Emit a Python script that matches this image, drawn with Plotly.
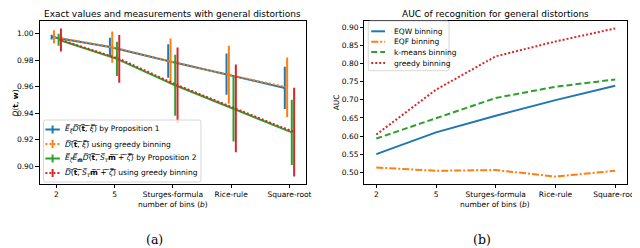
import plotly.graph_objects as go

# ---------------- data ----------------
categories = ["2", "5", "Sturges-formula", "Rice-rule", "Square-root"]

# left panel: exact values / measurements (mean and error half-width)
prop1_mean = [0.9975, 0.9900, 0.9794, 0.9694, 0.9590]
prop1_err = [0.0018, 0.0070, 0.0126, 0.0156, 0.0160]
greedy1_mean = [0.9976, 0.9898, 0.9790, 0.9689, 0.9595]
greedy1_err = [0.0051, 0.0118, 0.0173, 0.0219, 0.0225]
prop2_mean = [0.9954, 0.9810, 0.9610, 0.9430, 0.9254]
prop2_err = [0.0046, 0.0130, 0.0230, 0.0245, 0.0246]
greedy2_mean = [0.9953, 0.9810, 0.9610, 0.9436, 0.9256]
greedy2_err = [0.0087, 0.0180, 0.0285, 0.0332, 0.0336]
series_offsets = [-0.08, -0.04, 0.04, 0.08]

# right panel: AUC
auc_eqw = [0.550, 0.610, 0.656, 0.699, 0.739]
auc_eqf = [0.513, 0.504, 0.506, 0.488, 0.504]
auc_kmeans = [0.593, 0.648, 0.705, 0.736, 0.756]
auc_greedy = [0.604, 0.728, 0.820, 0.861, 0.897]

left_yticks = [0.90, 0.92, 0.94, 0.96, 0.98, 1.00]
right_yticks = [0.50, 0.55, 0.60, 0.65, 0.70, 0.75, 0.80, 0.85, 0.90]

# ---------------- style ----------------
W, H = 640, 248
FONT = "DejaVu Sans"
BLUE, ORANGE, GREEN, RED = "#1f77b4", "#ff7f0e", "#2ca02c", "#d62728"
TICK_FS = 7.5
DOT = "2px,2px"
DASH = "6px,3px"
DASHDOT = "7px,2px,2px,2px"


def X(px):
    return px / W


def Y(py):
    return 1 - py / H


OL = "\u0305"


def over(s):
    out = []
    intag = False
    for ch in s:
        if ch == "<":
            intag = True
        if intag:
            out.append(ch)
        else:
            out.append(ch + OL)
        if ch == ">":
            intag = False
    return "".join(out)


xs = list(range(len(categories)))
fig = go.Figure()

left_series = [
    (prop1_mean, prop1_err, BLUE, None),
    (greedy1_mean, greedy1_err, ORANGE, DOT),
    (prop2_mean, prop2_err, GREEN, None),
    (greedy2_mean, greedy2_err, RED, DOT),
]
for (m, e, c, d), off in zip(left_series, series_offsets):
    fig.add_trace(go.Scatter(
        x=[x + off for x in xs], y=m, mode="lines",
        line=dict(color=c, width=2, dash=d) if d else dict(color=c, width=2),
        error_y=dict(type="data", array=e, visible=True, thickness=2, width=0, color=c),
        xaxis="x", yaxis="y", showlegend=False, hoverinfo="skip"))

right_series = [
    (auc_eqw, BLUE, None),
    (auc_eqf, ORANGE, DASHDOT),
    (auc_kmeans, GREEN, DASH),
    (auc_greedy, RED, DOT),
]
for v, c, d in right_series:
    fig.add_trace(go.Scatter(
        x=xs, y=v, mode="lines",
        line=dict(color=c, width=2, dash=d) if d else dict(color=c, width=2),
        xaxis="x2", yaxis="y2", showlegend=False, hoverinfo="skip"))

axis_common = dict(showline=True, mirror=True, linecolor="black", linewidth=0.8,
                   ticks="outside", ticklen=3.5, tickwidth=0.8, tickcolor="black",
                   showgrid=False, zeroline=False,
                   tickfont=dict(family=FONT, size=TICK_FS, color="black"))

fig.update_layout(
    width=W, height=H, margin=dict(l=0, r=0, t=0, b=0),
    paper_bgcolor="white", plot_bgcolor="white",
    font=dict(family=FONT, size=TICK_FS, color="black"),
    xaxis=dict(domain=[X(32), X(303)], range=[-0.288, 4.288],
               tickvals=xs, ticktext=categories, anchor="y", **axis_common),
    yaxis=dict(domain=[Y(176), Y(13)], range=[0.8864, 1.0096],
               tickvals=left_yticks, tickformat=".2f", anchor="x", **axis_common),
    xaxis2=dict(domain=[X(362), X(629)], range=[-0.2, 4.2],
                tickvals=xs, ticktext=categories, anchor="y2", **axis_common),
    yaxis2=dict(domain=[Y(176), Y(13)], range=[0.4675, 0.9175],
                tickvals=right_yticks, tickformat=".2f", anchor="x2", **axis_common),
)


def rounded_box(x0, y0, x1, y1, r=2):
    # pixel coords -> paper path
    pts = (f"M {X(x0 + r)},{Y(y0)} L {X(x1 - r)},{Y(y0)} Q {X(x1)},{Y(y0)} {X(x1)},{Y(y0 + r)} "
           f"L {X(x1)},{Y(y1 - r)} Q {X(x1)},{Y(y1)} {X(x1 - r)},{Y(y1)} "
           f"L {X(x0 + r)},{Y(y1)} Q {X(x0)},{Y(y1)} {X(x0)},{Y(y1 - r)} "
           f"L {X(x0)},{Y(y0 + r)} Q {X(x0)},{Y(y0)} {X(x0 + r)},{Y(y0)} Z")
    return dict(type="path", xref="paper", yref="paper", path=pts,
                fillcolor="rgba(255,255,255,0.8)", line=dict(color="#cccccc", width=0.8))


shapes = []
annotations = []


def text(px, py, s, size=TICK_FS, xanchor="center", angle=0, family=FONT):
    annotations.append(dict(x=X(px), y=Y(py), xref="paper", yref="paper", text=s,
                            showarrow=False, xanchor=xanchor, yanchor="middle",
                            textangle=angle, font=dict(family=family, size=size, color="black")))


def seg(x0, y0, x1, y1, c, d=None, w=2):
    ln = dict(color=c, width=w)
    if d:
        ln["dash"] = d
    shapes.append(dict(type="line", xref="paper", yref="paper",
                       x0=X(x0), y0=Y(y0), x1=X(x1), y1=Y(y1), line=ln))


# left legend
shapes.append(rounded_box(36, 112, 196, 174))
left_labels = [
    over("<i>E</i><sub><i>ξ</i></sub><i>D</i>(<b>t</b>, <i>ξ</i>)") + " by Proposition 1",
    over("<i>D</i>(<b>t</b>, <i>ξ</i>)") + " using greedy binning",
    over("<i>E</i><sub><i>ζ</i></sub><i>E</i><sub><b>m</b></sub><i>D</i>(<b>t</b>, <i>S</i><sub><i>τ</i></sub><b>m</b> + <i>ζ</i>)") + " by Proposition 2",
    over("<i>D</i>(<b>t</b>, <i>S</i><sub><i>τ</i></sub><b>m</b> + <i>ζ</i>)") + " using greedy binning",
]
for (m, e, c, d), lab, yy in zip(left_series, left_labels, [121.5, 136, 150.5, 165]):
    seg(38, yy, 52.7, yy, c, d)
    seg(45.3, yy - 4, 45.3, yy + 4, c)
    text(56, yy, lab, xanchor="left")

# right legend
shapes.append(rounded_box(366, 13, 448, 62.7))
right_labels = ["EQW binning", "EQF binning", "k-means binning", "greedy binning"]
for (v, c, d), lab, yy in zip(right_series, right_labels, [23.3, 33.7, 44, 55]):
    seg(369, yy, 383, yy, c, d)
    text(390, yy, lab, xanchor="left")

# titles and labels
text(167.5, 6, "Exact values and measurements with general distortions", size=9)
text(495.5, 6, "AUC of recognition for general distortions", size=9)
text(168, 196, "number of bins (<i>b</i>)")
text(495, 196, "number of bins (<i>b</i>)")
text(8, 94.5, "<i>D</i>(<b>t</b>, <b>w</b>)", angle=-90)
text(334, 94.5, "AUC", angle=-90)
text(149, 231, "(a)", size=12.5, family="DejaVu Serif")
text(482, 231, "(b)", size=12.5, family="DejaVu Serif")

fig.update_layout(shapes=shapes, annotations=annotations)
fig.write_html("out.html")
